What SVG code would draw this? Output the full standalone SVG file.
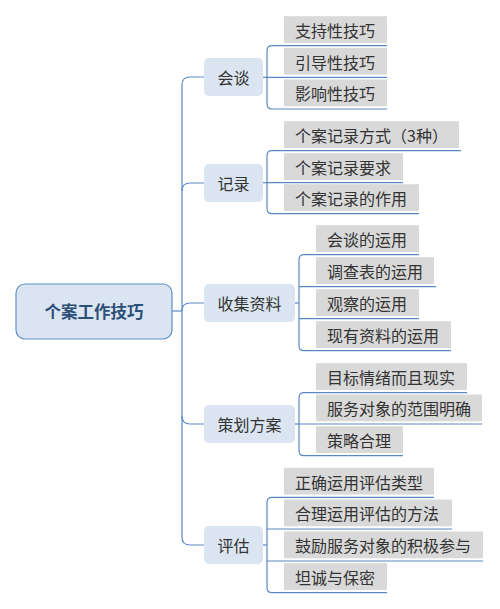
<svg xmlns="http://www.w3.org/2000/svg" width="500" height="609" viewBox="0 0 500 609">
<style>
text{font-family:"Noto Sans CJK SC","Microsoft YaHei",sans-serif;dominant-baseline:central;}
.root rect{fill:#dbe5f1;stroke:#5f8fc9;stroke-width:1.2;}
.root text{font-size:16.5px;font-weight:bold;fill:#2c4f78;text-anchor:middle;}
.l1 rect{fill:#dbe5f1;}
.l1 text{font-size:16px;fill:#333;text-anchor:middle;}
.l2 rect{fill:#d9d9d9;}
.l2 text{font-size:16px;fill:#333;}
#connectors path{fill:none;stroke:#5a88c3;stroke-width:1.2;}
</style>
<rect width="500" height="609" fill="#fff"/>
<g id="connectors">
<!-- root to trunk -->
<path d="M172 311 H182"/>
<path d="M204 77 H190 Q182 77 182 85 V537 Q182 545 190 545 H204"/>
<path d="M182 191 Q182 183 190 183 H204"/>
<path d="M182 311 Q182 303 190 303 H204"/>
<path d="M182 416 Q182 424 190 424 H204"/>
<!-- group 1 -->
<path d="M263 77.3 H267"/>
<path d="M272 45.7 Q267 45.7 267 50.7 V104 Q267 109 272 109"/>
<path d="M272 45.7 H387 M267 77.3 H387 M272 109 H387"/>
<!-- group 2 -->
<path d="M263 182.7 H267"/>
<path d="M272 150.7 Q267 150.7 267 155.7 V208.7 Q267 213.7 272 213.7"/>
<path d="M272 150.7 H461 M267 182.7 H403 M272 213.7 H419"/>
<!-- group 3 -->
<path d="M295 303 H299"/>
<path d="M304 254.7 Q299 254.7 299 259.7 V345.7 Q299 350.7 304 350.7"/>
<path d="M304 254.7 H419 M299 286.7 H436 M299 318.7 H419 M304 350.7 H451"/>
<!-- group 4 -->
<path d="M295 424 H299"/>
<path d="M304 392.7 Q299 392.7 299 397.7 V450.7 Q299 455.7 304 455.7"/>
<path d="M304 392.7 H467 M299 424 H482 M304 455.7 H403"/>
<!-- group 5 -->
<path d="M263 545 H267"/>
<path d="M272 497.3 Q267 497.3 267 502.3 V587.7 Q267 592.7 272 592.7"/>
<path d="M272 497.3 H434 M267 529 H452 M267 561 H483 M272 592.7 H387"/>
</g>
<g id="root" class="root"><rect x="16" y="284" width="156" height="55" rx="9"/><text x="94" y="311">个案工作技巧</text></g>
<g id="n-huitan" class="l1"><rect x="204" y="58" width="59" height="38" rx="5"/><text x="233.5" y="77">会谈</text></g>
<g id="n-jilu" class="l1"><rect x="204" y="164" width="59" height="38" rx="5"/><text x="233.5" y="183">记录</text></g>
<g id="n-shouji" class="l1"><rect x="204" y="284" width="91" height="38" rx="5"/><text x="249.5" y="303">收集资料</text></g>
<g id="n-cehua" class="l1"><rect x="204" y="405" width="91" height="38" rx="5"/><text x="249.5" y="424">策划方案</text></g>
<g id="n-pinggu" class="l1"><rect x="204" y="526" width="59" height="38" rx="5"/><text x="233.5" y="545">评估</text></g>

<g id="c1-1" class="l2"><rect x="284" y="16.2" width="103" height="26.8"/><text x="295" y="30">支持性技巧</text></g>
<g id="c1-2" class="l2"><rect x="284" y="47.8" width="103" height="26.8"/><text x="295" y="61.5">引导性技巧</text></g>
<g id="c1-3" class="l2"><rect x="284" y="79.5" width="103" height="26.8"/><text x="295" y="93.2">影响性技巧</text></g>

<g id="c2-1" class="l2"><rect x="284" y="121.2" width="175" height="26.8"/><text x="295" y="135">个案记录方式（3种）</text></g>
<g id="c2-2" class="l2"><rect x="284" y="153.2" width="119" height="26.8"/><text x="295" y="167">个案记录要求</text></g>
<g id="c2-3" class="l2"><rect x="284" y="184.2" width="135" height="26.8"/><text x="295" y="198">个案记录的作用</text></g>

<g id="c3-1" class="l2"><rect x="316" y="225.2" width="103" height="26.8"/><text x="327" y="239">会谈的运用</text></g>
<g id="c3-2" class="l2"><rect x="316" y="257.2" width="118" height="26.8"/><text x="327" y="271">调查表的运用</text></g>
<g id="c3-3" class="l2"><rect x="316" y="289.2" width="103" height="26.8"/><text x="327" y="303">观察的运用</text></g>
<g id="c3-4" class="l2"><rect x="316" y="321.2" width="135" height="26.8"/><text x="327" y="335">现有资料的运用</text></g>

<g id="c4-1" class="l2"><rect x="316" y="363.2" width="151" height="26.8"/><text x="327" y="377">目标情绪而且现实</text></g>
<g id="c4-2" class="l2"><rect x="316" y="394.5" width="166" height="26.8"/><text x="327" y="408.3">服务对象的范围明确</text></g>
<g id="c4-3" class="l2"><rect x="316" y="426.2" width="87" height="26.8"/><text x="327" y="440">策略合理</text></g>

<g id="c5-1" class="l2"><rect x="284" y="467.8" width="150" height="26.8"/><text x="295" y="481.6">正确运用评估类型</text></g>
<g id="c5-2" class="l2"><rect x="284" y="499.5" width="168" height="26.8"/><text x="295" y="513.3">合理运用评估的方法</text></g>
<g id="c5-3" class="l2"><rect x="284" y="531.5" width="199" height="26.8"/><text x="295" y="545.3">鼓励服务对象的积极参与</text></g>
<g id="c5-4" class="l2"><rect x="284" y="563.2" width="103" height="26.8"/><text x="295" y="577">坦诚与保密</text></g>
</svg>
